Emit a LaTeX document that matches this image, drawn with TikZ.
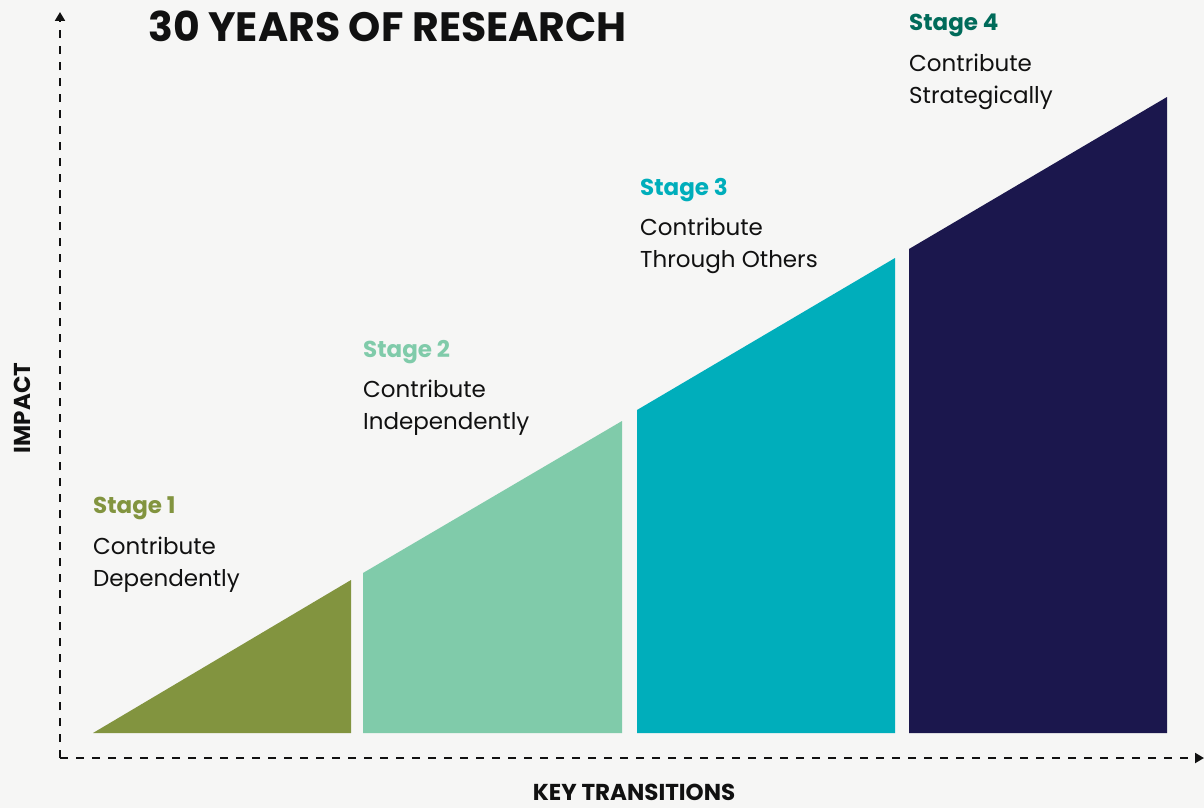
\documentclass[tikz,border=0pt]{standalone}
\usepackage{fontspec}
\setmainfont{Poppins}
\usetikzlibrary{arrows.meta}
\definecolor{bgc}{HTML}{F6F6F5}
\definecolor{sone}{HTML}{82943F}
\definecolor{stwo}{HTML}{80CBAA}
\definecolor{sthree}{HTML}{00AEBB}
\definecolor{sfour}{HTML}{1B174D}
\definecolor{sfourtxt}{HTML}{006B5A}
\definecolor{ink}{HTML}{111111}
\tikzset{
  axisline/.style={ink, line width=2pt, dash pattern=on 8pt off 8pt, -{Triangle[length=9pt,width=10pt]}},
  stagehead/.style={anchor=base west, inner sep=0pt, font=\fontsize{23}{27}\selectfont\bfseries},
  stagebody/.style={anchor=base west, inner sep=0pt, font=\fontsize{23}{27}\selectfont, text=ink},
  axislabel/.style={inner sep=0pt, font=\fontsize{23}{27}\selectfont\bfseries, text=ink},
}
\begin{document}
\begin{tikzpicture}[x=1pt,y=-1pt]
\fill[bgc] (0,0) rectangle (1204,808);
\useasboundingbox (0,0) rectangle (1204,808);
% stages
\fill[sone] (93,733) -- (351,580) -- (351,733) -- cycle;
\fill[stwo] (363,733) -- (363,573) -- (622,421) -- (622,733) -- cycle;
\fill[sthree] (637,733) -- (637,410) -- (895,258) -- (895,733) -- cycle;
\fill[sfour] (909,733) -- (909,249) -- (1167,97) -- (1167,733) -- cycle;
% axes
\coordinate (origin) at (60,758);
\coordinate (ytip) at (60,12);
\coordinate (xtip) at (1204,758);
\draw[axisline] (origin) -- (ytip);
\draw[axisline] (origin) -- (xtip);
% title
\node[anchor=base west, inner sep=0pt, font=\fontsize{41}{45}\selectfont\bfseries, text=ink] (title) at (148,42) {30 YEARS OF RESEARCH};
\node[axislabel, rotate=90] (impact) at (22,408) {IMPACT};
\node[axislabel, anchor=base] (keytr) at (634,800) {KEY TRANSITIONS};
% labels
\node[stagehead, text=sone] (h1) at (93,513) {Stage 1};
\node[stagebody] (b1a) at (93,554) {Contribute};
\node[stagebody] (b1b) at (93,586) {Dependently};
\node[stagehead, text=stwo] (h2) at (363,357) {Stage 2};
\node[stagebody] (b2a) at (363,397) {Contribute};
\node[stagebody] (b2b) at (363,429) {Independently};
\node[stagehead, text=sthree] (h3) at (640,195) {Stage 3};
\node[stagebody] (b3a) at (640,235) {Contribute};
\node[stagebody] (b3b) at (640,267) {Through Others};
\node[stagehead, text=sfourtxt] (h4) at (909,31) {Stage 4};
\node[stagebody] (b4a) at (909,71) {Contribute};
\node[stagebody] (b4b) at (909,103) {Strategically};
\end{tikzpicture}
\end{document}
